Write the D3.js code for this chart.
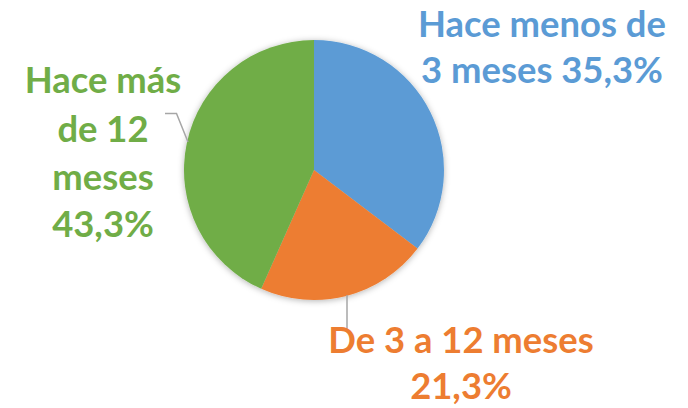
<!DOCTYPE html>
<html><head><meta charset="utf-8">
<script src="https://cdn.jsdelivr.net/npm/d3@7"></script>
<style>body{margin:0;background:#fff}svg{display:block}</style>
</head><body>
<svg id="c" width="688" height="408"></svg>
<script>
const categories = ["Hace menos de 3 meses", "De 3 a 12 meses", "Hace más de 12 meses"];
const values = [35.3, 21.3, 43.3];
const valueLabels = ["35,3%", "21,3%", "43,3%"];
const colors = ["#5B9BD5", "#ED7D31", "#70AD47"];
const labelLines = [
  ["Hace menos de", "3 meses 35,3%"],
  ["De 3 a 12 meses", "21,3%"],
  ["Hace más", "de 12", "meses", "43,3%"]
];

const svg = d3.select("#c");
const cx = 314, cy = 170, r = 130;
const defs = svg.append("defs");
const f = defs.append("filter").attr("id","sh").attr("x","-20%").attr("y","-20%").attr("width","140%").attr("height","140%");
f.append("feDropShadow").attr("dx",0).attr("dy",1).attr("stdDeviation",3).attr("flood-color","#000").attr("flood-opacity",0.3);

const pie = d3.pie().sort(null).value(d => d)(values);
const arc = d3.arc().innerRadius(0).outerRadius(r);
const g = svg.append("g").attr("transform", `translate(${cx},${cy})`);
g.append("g").attr("filter","url(#sh)").selectAll("path").data(pie).join("path")
  .attr("d", arc).attr("fill", (d,i) => colors[i]);

// leader lines
const lc = "#A6A6A6";
svg.append("polyline").attr("points","165,113.5 176.5,113.5 188,142").attr("fill","none").attr("stroke",lc).attr("stroke-width",1.5);
svg.append("line").attr("x1",347).attr("y1",295).attr("x2",347).attr("y2",329).attr("stroke",lc).attr("stroke-width",1.5);

const font = "Lato, 'Open Sans', sans-serif";
// fit font size so first blue line width ~248px
const tmp = svg.append("text").attr("font-family",font).attr("font-weight",700).attr("font-size",100).text(labelLines[0][0]);
const fs = 100 * 248 / tmp.node().getComputedTextLength();
tmp.remove();

const pos = [
  {x: 542, ys: [37, 83]},
  {x: 461, ys: [353, 399]},
  {x: 103, ys: [93, 142, 190, 237]}
];
labelLines.forEach((lines, i) => {
  lines.forEach((t, j) => {
    svg.append("text").attr("x", pos[i].x).attr("y", pos[i].ys[j])
      .attr("text-anchor","middle").attr("font-family",font).attr("font-weight",700)
      .attr("font-size", fs).attr("fill", colors[i]).text(t);
  });
});
</script>
</body></html>
